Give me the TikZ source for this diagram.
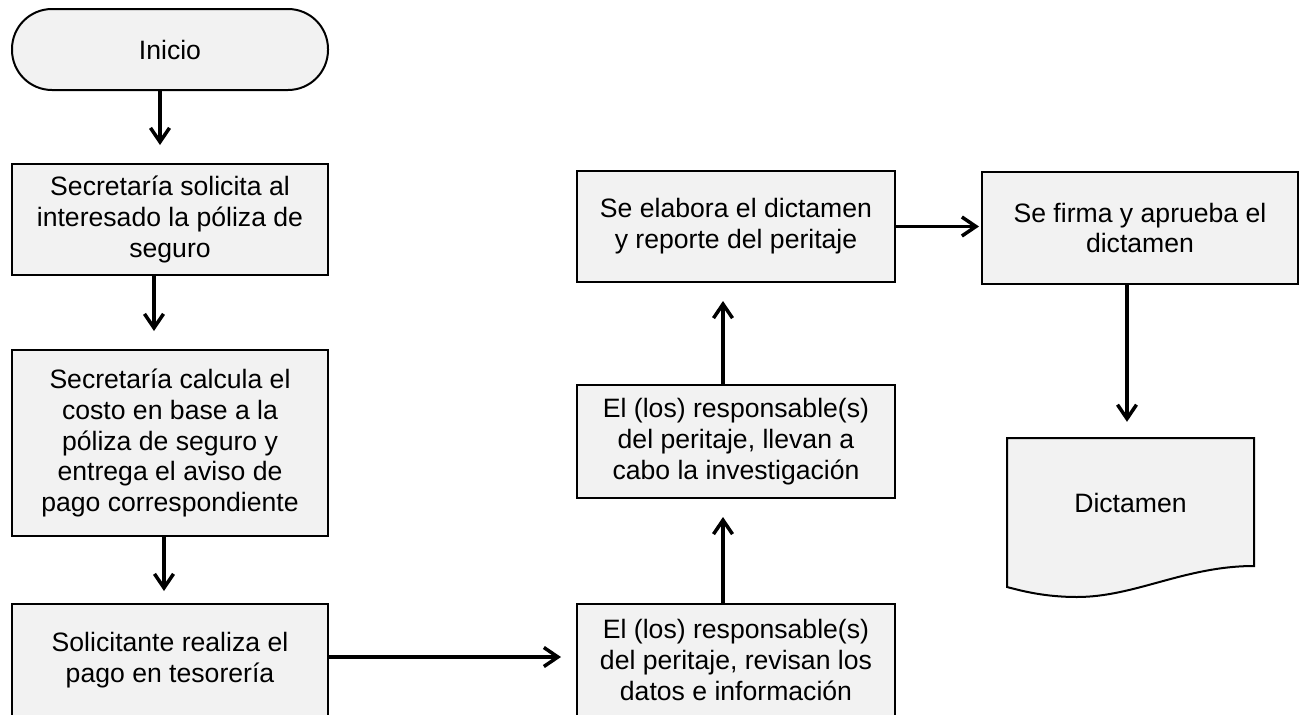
\documentclass[tikz,border=0pt]{standalone}
\usepackage{fontspec}
\setmainfont{Liberation Sans}
\usetikzlibrary{arrows.meta}
\definecolor{boxgray}{HTML}{F2F2F2}
\begin{document}
\begin{tikzpicture}[x=1pt,y=-1pt,
  every node/.style={font=\fontsize{26.6}{30.8}\selectfont},
  proc/.style={draw=black, line width=2pt, fill=boxgray, align=center, inner sep=0pt, minimum width=316pt},
  flow/.style={line width=3.5pt, -{Straight Barb[length=14pt,width=19pt]}}
]
\useasboundingbox (0,0) rectangle (1299,715);

\node[proc, minimum height=81pt, rounded corners=40pt] (inicio) at (170,49.5) {Inicio};
\node[proc, minimum height=111pt] (b1) at (170,219.5) {Secretaría solicita al\\interesado la póliza de\\seguro};
\node[proc, minimum height=186pt] (b2) at (170,443) {Secretaría calcula el\\costo en base a la\\póliza de seguro y\\entrega el aviso de\\pago correspondiente};
\node[proc, minimum height=112pt] (b3) at (170,660) {Solicitante realiza el\\pago en tesorería};
\node[proc, minimum width=318pt, minimum height=112pt] (b4) at (736,660) {El (los) responsable(s)\\del peritaje, revisan los\\datos e información};
\node[proc, minimum width=318pt, minimum height=113pt] (b5) at (736,441.5) {El (los) responsable(s)\\del peritaje, llevan a\\cabo la investigación};
\node[proc, minimum width=318pt, minimum height=111pt] (b6) at (736,226.5) {Se elabora el dictamen\\y reporte del peritaje};
\node[proc, minimum height=112pt] (b7) at (1140,228) {Se firma y aprueba el\\dictamen};

\draw[line width=2pt, fill=boxgray] (1007,438) -- (1254,438) -- (1254,566)
  .. controls (1185,566) and (1135,597) .. (1077,597)
  .. controls (1045,597) and (1022,591) .. (1007,587) -- cycle;
\node[inner sep=0pt, minimum width=247pt, minimum height=130pt] (doc) at (1130.5,503) {Dictamen};

\draw[flow, shorten >=18pt] ([xshift=-10pt]inicio.south) -- ([xshift=-10pt]b1.north);
\draw[flow, shorten >=18pt] ([xshift=-16pt]b1.south) -- ([xshift=-16pt]b2.north);
\draw[flow, shorten >=12pt] ([xshift=-6pt]b2.south) -- ([xshift=-6pt]b3.north);
\draw[flow, shorten >=15pt] ([yshift=3pt]b3.east) -- ([yshift=3pt]b4.west);
\draw[flow, shorten >=18pt] ([xshift=-13pt]b4.north) -- ([xshift=-13pt]b5.south);
\draw[flow, shorten >=18pt] ([xshift=-13pt]b5.north) -- ([xshift=-13pt]b6.south);
\draw[flow, shorten >=2pt] (b6.east) -- (b7.west |- b6.east);
\coordinate (a8) at ([xshift=-13pt]b7.south);
\draw[flow, shorten >=16pt] (a8) -- (a8 |- doc.north);
\end{tikzpicture}
\end{document}
